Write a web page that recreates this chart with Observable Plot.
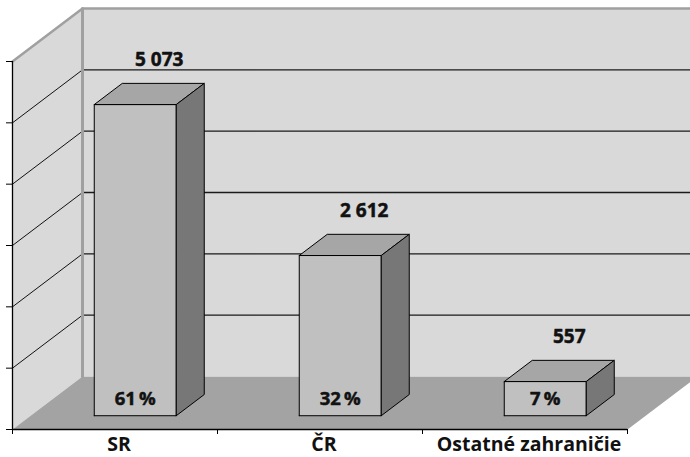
<!DOCTYPE html>
<html><head><meta charset="utf-8">
<script src="https://cdn.jsdelivr.net/npm/d3@7"></script>
<script src="https://cdn.jsdelivr.net/npm/@observablehq/plot@0.6"></script>
<style>
html,body{margin:0;padding:0;background:#fff;overflow:hidden}
</style>
</head><body><div id="chart"></div>
<script>
// ---- data ----
const categories = ["SR", "ČR", "Ostatné zahraničie"];
const values = [5073, 2612, 557];
const percents = [61, 32, 7];
const yTicks = [0, 1000, 2000, 3000, 4000, 5000, 6000];
const xTicks = [0, 1, 2, 3];

// ---- layout / style constants ----
const W = 690, H = 457;
const mL = 12, mR = 63, mT = 61, mB = 28;
const yMax = 6000;
const DX = 70 / ((W - mL - mR) / categories.length); // depth offset in category units
const DY = 53 / ((H - mT - mB) / yMax);              // depth offset in value units
const d0 = 0.26, d1 = 0.66, a = 0.31, w = 0.4;
const font = "'Open Sans', 'DejaVu Sans', sans-serif";

const P = (x, v, d) => ({x: x + d * DX, y: v + d * DY});

// walls & floor
const sideWall = [P(0,0,0), P(0,0,1), P(0,yMax,1), P(0,yMax,0), P(0,0,0)].map(p => ({...p, id: "side"}));
const floorPoly = [P(0,0,0), P(3,0,0), P(3,0,1), P(0,0,1), P(0,0,0)].map(p => ({...p, id: "floor"}));
const backGrid = yTicks.filter(v => v > 0 && v < yMax).flatMap(v => [P(0,v,1), P(3,v,1)].map(p => ({...p, id: v})));
const sideGrid = yTicks.filter(v => v > 0 && v < yMax).flatMap(v => [P(0,v,0), P(0,v,1)].map(p => ({...p, id: v})));
const edgeTop = [P(0,yMax,0), P(0,yMax,1), P(3,yMax,1)];
const edgeBack = [P(0,0,1), P(0,yMax,1)];

// bars
const barFront = [], barTop = [], barSide = [];
values.forEach((v, i) => {
  const x0 = i + a, x1 = i + a + w;
  [P(x0,0,d0), P(x1,0,d0), P(x1,v,d0), P(x0,v,d0), P(x0,0,d0)].forEach(p => barFront.push({...p, id: i}));
  [P(x0,v,d0), P(x1,v,d0), P(x1,v,d1), P(x0,v,d1), P(x0,v,d0)].forEach(p => barTop.push({...p, id: i}));
  [P(x1,0,d0), P(x1,0,d1), P(x1,v,d1), P(x1,v,d0), P(x1,0,d0)].forEach(p => barSide.push({...p, id: i}));
});

const fmt = d3.formatLocale({decimal: ",", thousands: "\u00a0", grouping: [3], currency: ["", ""]}).format(",");
const valueLabels = values.map((v, i) => ({...P(i + a + w / 2, v, d1), t: fmt(v)}));
const pctLabels = percents.map((p, i) => ({...P(i + a + w / 2, 0, d0), t: p + "\u2009%"}));

const chart = Plot.plot({
  width: W, height: H,
  marginLeft: mL, marginRight: mR, marginTop: mT, marginBottom: mB,
  style: {fontFamily: font, background: "#fff", overflow: "hidden"},
  x: {type: "linear", domain: [0, 3]},
  y: {type: "linear", domain: [0, yMax]},
  marks: [
    Plot.rect([0], {x1: DX, x2: 3 + DX, y1: DY, y2: yMax + DY, fill: "#d9d9d9"}),
    Plot.line(sideWall, {x: "x", y: "y", z: "id", fill: "#d9d9d9", stroke: "none"}),
    Plot.line(floorPoly, {x: "x", y: "y", z: "id", fill: "#a3a3a3", stroke: "none"}),
    Plot.line(backGrid, {x: "x", y: "y", z: "id", stroke: "#1a1a1a", strokeWidth: 1.4}),
    Plot.line(sideGrid, {x: "x", y: "y", z: "id", stroke: "#111", strokeWidth: 1}),
    Plot.line(edgeTop, {x: "x", y: "y", stroke: "#a0a0a0", strokeWidth: 2.5, strokeLinejoin: "miter"}),
    Plot.line(edgeBack, {x: "x", y: "y", stroke: "#a0a0a0", strokeWidth: 3}),
    Plot.ruleX([0], {y1: 0, y2: yMax, stroke: "black", strokeWidth: 1.3}),
    Plot.ruleY([0], {x1: 0, x2: 3, stroke: "black", strokeWidth: 1.5}),
    Plot.axisY({ticks: yTicks, tickSize: 6, tickFormat: () => "", label: null, stroke: "black"}),
    Plot.axisX({ticks: xTicks, tickSize: 5, tickFormat: () => "", label: null, stroke: "black"}),
    Plot.axisX({ticks: [0.5, 1.5, 2.5], tickSize: 0, tickPadding: 8, tickFormat: d => categories[Math.floor(d)],
      label: null, fontSize: 19.5, fontWeight: "bold", fill: "#111", dx: 4}),
    Plot.line(barFront, {x: "x", y: "y", z: "id", fill: "#c0c0c0", stroke: "black", strokeWidth: 1}),
    Plot.line(barTop, {x: "x", y: "y", z: "id", fill: "#a6a6a6", stroke: "black", strokeWidth: 1}),
    Plot.line(barSide, {x: "x", y: "y", z: "id", fill: "#777777", stroke: "black", strokeWidth: 1}),
    Plot.text(valueLabels, {x: "x", y: "y", text: "t", dx: -4, dy: -23, fontSize: 19, fontWeight: "bold",
      fill: "#111", stroke: "#111", strokeWidth: 0.5}),
    Plot.text(pctLabels, {x: "x", y: "y", text: "t", dy: -17, fontSize: 18.5, fontWeight: "bold",
      fill: "#111", stroke: "#111", strokeWidth: 0.5})
  ]
});
document.getElementById("chart").append(chart);
</script>
</body></html>
